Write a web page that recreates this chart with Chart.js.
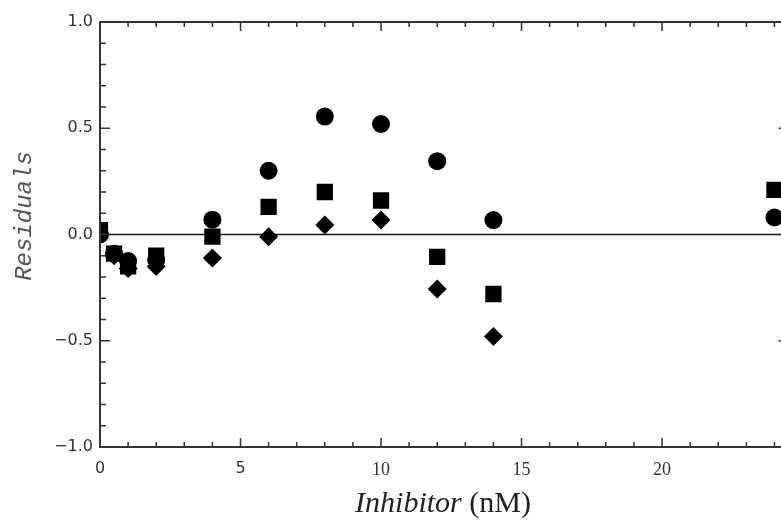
<!DOCTYPE html>
<html>
<head>
<meta charset="utf-8">
<script src="https://cdn.jsdelivr.net/npm/chart.js@4.4.1/dist/chart.umd.min.js"></script>
<style>
  html, body { margin: 0; padding: 0; background: #fff; overflow: hidden; }
  canvas { display: block; }
</style>
</head>
<body>
<canvas id="residualChart" width="800" height="521"></canvas>
<script>
// inhibitor concentrations (nM)
const inhibitor = [0, 0.5, 1, 2, 4, 6, 8, 10, 12, 14, 24];
// residuals per model
const circles  = [0.00, -0.09, -0.125, -0.12, 0.07, 0.30, 0.555, 0.52, 0.345, 0.068, 0.08];
const squares  = [0.02, -0.09, -0.15, -0.10, -0.01, 0.13, 0.20, 0.16, -0.105, -0.28, 0.21];
const diamonds = [0.00, -0.10, -0.16, -0.15, -0.11, -0.01, 0.045, 0.068, -0.257, -0.48, null];

const xTickVals = [0, 5, 10, 15, 20];
const xTickLabels = ['0', '5', '10', '15', '20'];
const yTickVals = [-1, -0.5, 0, 0.5, 1];
const yTickLabels = ['\u22121.0', '\u22120.5', '0.0', '0.5', '1.0'];

const toPoints = ys => inhibitor.map((x, i) => ({ x: x, y: ys[i] })).filter(p => p.y !== null);

const frame = {
    id: 'frame',
    beforeDatasetsDraw(chart) {
        const { ctx, chartArea: a, scales: { y } } = chart;
        const y0 = y.getPixelForValue(0);
        ctx.save();
        ctx.strokeStyle = '#111';
        ctx.lineWidth = 1.6;
        ctx.beginPath();
        ctx.moveTo(a.left, y0);
        ctx.lineTo(a.right, y0);
        ctx.stroke();
        ctx.restore();
        // keep markers inside the frame
        ctx.save();
        ctx.beginPath();
        ctx.rect(a.left, a.top, a.right - a.left, a.bottom - a.top);
        ctx.clip();
    },
    afterDatasetsDraw(chart) {
        const { ctx, chartArea: a, scales: { x, y } } = chart;
        ctx.restore();
        ctx.save();
        ctx.strokeStyle = '#333';
        ctx.lineWidth = 2;
        ctx.strokeRect(a.left, a.top, a.right - a.left, a.bottom - a.top);

        ctx.lineWidth = 1.5;
        ctx.beginPath();
        // x ticks every 1, long ones at labels
        for (let v = 0; v <= 24; v++) {
            const px = x.getPixelForValue(v);
            const len = xTickVals.includes(v) ? 9 : 5;
            ctx.moveTo(px, a.bottom); ctx.lineTo(px, a.bottom - len);
            ctx.moveTo(px, a.top); ctx.lineTo(px, a.top + len);
        }
        // y ticks every 0.1
        for (let k = -10; k <= 10; k++) {
            const v = k / 10;
            const py = y.getPixelForValue(v);
            const len = k % 5 === 0 ? 10 : 6;
            ctx.moveTo(a.left, py); ctx.lineTo(a.left + len, py);
            ctx.moveTo(a.right, py); ctx.lineTo(a.right - len, py);
        }
        ctx.stroke();

        // axis titles
        ctx.fillStyle = '#222';
        ctx.textBaseline = 'alphabetic';
        const part1 = 'Inhibitor ';
        const part2 = '(nM)';
        const f1 = 'italic 30px "Liberation Serif"';
        const f2 = '30px "Liberation Serif"';
        ctx.font = f1;
        const w1 = ctx.measureText(part1).width;
        ctx.font = f2;
        const w2 = ctx.measureText(part2).width;
        const startX = 443 - (w1 + w2) / 2;
        ctx.font = f1;
        ctx.fillText(part1, startX, 512);
        ctx.font = f2;
        ctx.fillText(part2, startX + w1, 512);

        ctx.translate(31, 216);
        ctx.rotate(-Math.PI / 2);
        ctx.fillStyle = '#555';
        ctx.textAlign = 'center';
        ctx.font = 'italic 24px "Liberation Mono"';
        ctx.fillText('Residuals', 0, 0);
        ctx.restore();
    }
};

new Chart(document.getElementById('residualChart'), {
    type: 'scatter',
    data: {
        datasets: [
            { label: 'circles', data: toPoints(circles), pointStyle: 'circle', pointRadius: 9 },
            { label: 'squares', data: toPoints(squares), pointStyle: 'rect', pointRadius: 11.5 },
            { label: 'diamonds', data: toPoints(diamonds), pointStyle: 'rectRot', pointRadius: 9.5 }
        ].map(d => Object.assign(d, {
            backgroundColor: '#000',
            borderWidth: 0,
            pointHoverRadius: d.pointRadius,
            clip: 0
        }))
    },
    options: {
        responsive: false,
        animation: false,
        devicePixelRatio: 1,
        layout: { padding: { top: 22, right: 10, left: 0, bottom: 0 } },
        plugins: {
            legend: { display: false },
            tooltip: { enabled: false }
        },
        scales: {
            x: {
                type: 'linear',
                min: 0,
                max: 24.5,
                grid: { display: false, drawTicks: false },
                border: { display: false },
                afterBuildTicks: s => { s.ticks = xTickVals.map(v => ({ value: v })); },
                afterFit: s => { s.height = 74; },
                ticks: {
                    autoSkip: false,
                    maxRotation: 0,
                    padding: 12,
                    color: '#333',
                    callback: (v, i) => xTickLabels[i],
                    font: c => c.index < 2
                        ? { family: '"DejaVu Sans"', size: 16 }
                        : { family: '"Liberation Serif"', size: 18 }
                }
            },
            y: {
                min: -1,
                max: 1,
                grid: { display: false, drawTicks: false },
                border: { display: false },
                afterBuildTicks: s => { s.ticks = yTickVals.map(v => ({ value: v })); },
                afterFit: s => { s.width = 100; },
                ticks: {
                    autoSkip: false,
                    padding: 7,
                    color: '#333',
                    callback: (v, i) => yTickLabels[i],
                    font: { family: '"DejaVu Sans"', size: 16 }
                }
            }
        }
    },
    plugins: [frame]
});
</script>
</body>
</html>
